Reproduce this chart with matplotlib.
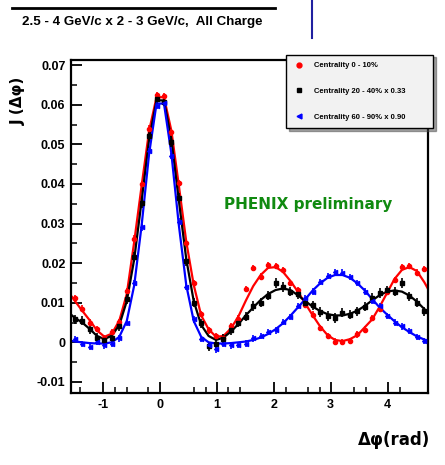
import numpy as np
import matplotlib
matplotlib.use('Agg')
import matplotlib.pyplot as plt
from matplotlib.lines import Line2D
from matplotlib.ticker import FixedLocator, MultipleLocator

# bin centres of the correlation histograms (48 bins over 2 pi)
n_bins = 48
bin_x = -np.pi / 2 + (np.arange(n_bins) + 0.5) * 2 * np.pi / n_bins
# fit curves are given at the bin centres plus the two plot edges
fit_x = np.r_[-np.pi / 2, bin_x, 3 * np.pi / 2]

labels = ['Centrality 0 - 10%', 'Centrality 20 - 40% x 0.33', 'Centrality 60 - 90% x 0.90']

# data points
red_pts = [0.0112, 0.0085, 0.0050, 0.0034, 0.0010, 0.0026, 0.0052, 0.0130, 0.0262, 0.0400,
           0.0540, 0.0625, 0.0622, 0.0530, 0.0402, 0.0250, 0.0150, 0.0072, 0.0030, 0.0016,
           0.0012, 0.0040, 0.0060, 0.0135, 0.0188, 0.0166, 0.0195, 0.0192, 0.0182, 0.0150,
           0.0132, 0.0094, 0.0070, 0.0036, 0.0016, 0.0002, 0.0001, 0.0004, 0.0020, 0.0032,
           0.0062, 0.0085, 0.0128, 0.0158, 0.0190, 0.0193, 0.0176, 0.0185]
black_pts = [0.0058, 0.0055, 0.0033, 0.0012, 0.0005, 0.0012, 0.0040, 0.0110, 0.0215, 0.0352,
             0.0520, 0.0615, 0.0608, 0.0505, 0.0365, 0.0205, 0.0100, 0.0048, -0.0010, -0.0005,
             0.0008, 0.0030, 0.0050, 0.0065, 0.0092, 0.0100, 0.0118, 0.0150, 0.0140, 0.0128,
             0.0122, 0.0100, 0.0093, 0.0076, 0.0066, 0.0062, 0.0075, 0.0070, 0.0078, 0.0090,
             0.0112, 0.0125, 0.0131, 0.0128, 0.0150, 0.0116, 0.0100, 0.0078]
blue_pts = [0.0008, -0.0005, -0.0012, 0.0000, -0.0008, -0.0004, 0.0010, 0.0048, 0.0150, 0.0290,
            0.0482, 0.0598, 0.0605, 0.0470, 0.0305, 0.0140, 0.0058, 0.0008, -0.0006, -0.0018,
            -0.0004, -0.0008, -0.0006, -0.0003, 0.0010, 0.0016, 0.0026, 0.0030, 0.0052, 0.0064,
            0.0092, 0.0112, 0.0128, 0.0152, 0.0168, 0.0178, 0.0176, 0.0165, 0.0150, 0.0128,
            0.0104, 0.0092, 0.0066, 0.0050, 0.0040, 0.0028, 0.0014, 0.0004]

# fit curves
red_fit = [0.0118,
           0.0105, 0.0080, 0.0056, 0.0030, 0.0014, 0.0022, 0.0055, 0.0122, 0.0254, 0.0396,
           0.0534, 0.0619, 0.0619, 0.0534, 0.0396, 0.0254, 0.0145, 0.0068, 0.0033, 0.0014,
           0.0016, 0.0035, 0.0065, 0.0105, 0.0142, 0.0170, 0.0188, 0.0190, 0.0178, 0.0155,
           0.0128, 0.0098, 0.0068, 0.0040, 0.0018, 0.0006, 0.0003, 0.0008, 0.0018, 0.0038,
           0.0058, 0.0090, 0.0125, 0.0160, 0.0183, 0.0190, 0.0180, 0.0152,
           0.0135]
black_fit = [0.0070,
             0.0062, 0.0050, 0.0034, 0.0016, 0.0008, 0.0017, 0.0044, 0.0104, 0.0210, 0.0358,
             0.0512, 0.0611, 0.0611, 0.0512, 0.0358, 0.0210, 0.0104, 0.0044, 0.0016, 0.0006,
             0.0012, 0.0027, 0.0046, 0.0068, 0.0088, 0.0107, 0.0122, 0.0132, 0.0136, 0.0132,
             0.0119, 0.0104, 0.0090, 0.0079, 0.0071, 0.0068, 0.0068, 0.0072, 0.0080, 0.0092,
             0.0106, 0.0119, 0.0128, 0.0131, 0.0128, 0.0118, 0.0103, 0.0084,
             0.0076]
blue_fit = [0.0004,
            0.0002, 0.0000, -0.0002, -0.0003, -0.0003, 0.0000, 0.0014, 0.0054, 0.0144, 0.0296,
            0.0476, 0.0603, 0.0603, 0.0476, 0.0296, 0.0144, 0.0054, 0.0014, 0.0000, -0.0003,
            -0.0003, -0.0002, 0.0000, 0.0002, 0.0006, 0.0012, 0.0021, 0.0033, 0.0048, 0.0067,
            0.0088, 0.0109, 0.0131, 0.0149, 0.0163, 0.0170, 0.0170, 0.0163, 0.0149, 0.0131,
            0.0109, 0.0088, 0.0070, 0.0053, 0.0038, 0.0026, 0.0015, 0.0007,
            0.0004]

y_ticks = [-0.01, 0.0, 0.01, 0.02, 0.03, 0.04, 0.05, 0.06, 0.07]
y_tick_labels = ['-0.01', '0', '0.01', '0.02', '0.03', '0.04', '0.05', '0.06', '0.07']
x_ticks = [-1, 0, 1, 2, 3, 4]
x_tick_labels = ['-1', '0', '1', '2', '3', '4']

W, H = 445, 465
fig = plt.figure(figsize=(W / 100, H / 100), dpi=100)
ax = fig.add_axes([71 / W, 1 - 393 / H, (428 - 71) / W, (393 - 60) / H])

series = [
    (red_pts, red_fit, '#ff0000', 'o', 0.0008),
    (black_pts, black_fit, '#000000', 's', 0.0012),
    (blue_pts, blue_fit, '#0000ff', '<', 0.0008),
]
handles = []
for pts, fit, col, mk, err in series:
    ax.plot(fit_x, fit, color=col, lw=1.6, zorder=2)
    ax.errorbar(bin_x, pts, yerr=err, fmt=mk, color=col, ms=3.0, elinewidth=1.2,
                capsize=0, zorder=3)
    handles.append(Line2D([], [], ls='none', marker=mk, color=col, ms=3.5))

ax.set_xlim(-np.pi / 2, 3 * np.pi / 2)
ax.set_ylim(-0.0128, 0.0713)

tick_font = {'family': 'Liberation Sans', 'weight': 'bold', 'size': 9}
ax.set_yticks(y_ticks)
ax.set_yticklabels(y_tick_labels, fontdict=tick_font)
ax.set_xticks(x_ticks)
ax.set_xticklabels(x_tick_labels, fontdict=tick_font)
ax.yaxis.set_minor_locator(MultipleLocator(0.005))
ax.xaxis.set_minor_locator(FixedLocator([-1.41, -0.79, -0.59, -0.21, 0.6, 0.81, 1.19, 1.4,
                                         2.22, 2.6, 2.81, 3.41, 3.62, 4.22]))
ax.tick_params(axis='both', which='major', direction='in', length=8, width=1.3,
               top=False, right=False, pad=4)
ax.tick_params(axis='both', which='minor', direction='in', length=4, width=1.1,
               top=False, right=False)
for sp in ax.spines.values():
    sp.set_linewidth(1.6)

ax.text(0.665, 0.565, 'PHENIX preliminary', transform=ax.transAxes, ha='center', va='center',
        color='#108a10', fontsize=11, fontweight='bold', family='DejaVu Sans')

# header line and title
fig.add_artist(Line2D([12 / W, 275 / W], [1 - 8 / H, 1 - 8 / H], color='black', lw=2))
fig.add_artist(Line2D([312 / W, 312 / W], [1, 1 - 38 / H], color='#2020a0', lw=1.5))
fig.text(22 / W, 1 - 22 / H, '2.5 - 4 GeV/c x 2 - 3 GeV/c,  All Charge', ha='left',
         va='center', fontsize=9.6, family='Liberation Sans', fontweight='bold')

fig.text(18 / W, 1 - 101 / H, 'J (\u0394\u03c6)', rotation=90, ha='center', va='center',
         fontsize=11, fontweight='bold', family='DejaVu Sans')
fig.text(430 / W, 1 - 440 / H, '\u0394\u03c6(rad)', ha='right', va='center',
         fontsize=12, fontweight='bold', family='DejaVu Sans')

leg = ax.legend(handles, labels, bbox_to_anchor=(286 / W, 1 - 138 / H, 147 / W, 93 / H),
                bbox_transform=fig.transFigure, mode='expand', loc='center',
                frameon=True, fancybox=False, shadow=True,
                borderaxespad=0, handlelength=1.5, handletextpad=1.2,
                labelspacing=2.4, borderpad=1.0, prop={'family': 'Liberation Sans', 'size': 5.5,
                                                       'weight': 'bold'})
leg.get_frame().set_facecolor('#f2f2f2')
leg.get_frame().set_edgecolor('black')
leg.get_frame().set_linewidth(1.0)
leg.set_zorder(10)

fig.savefig('out.png', dpi=100)
